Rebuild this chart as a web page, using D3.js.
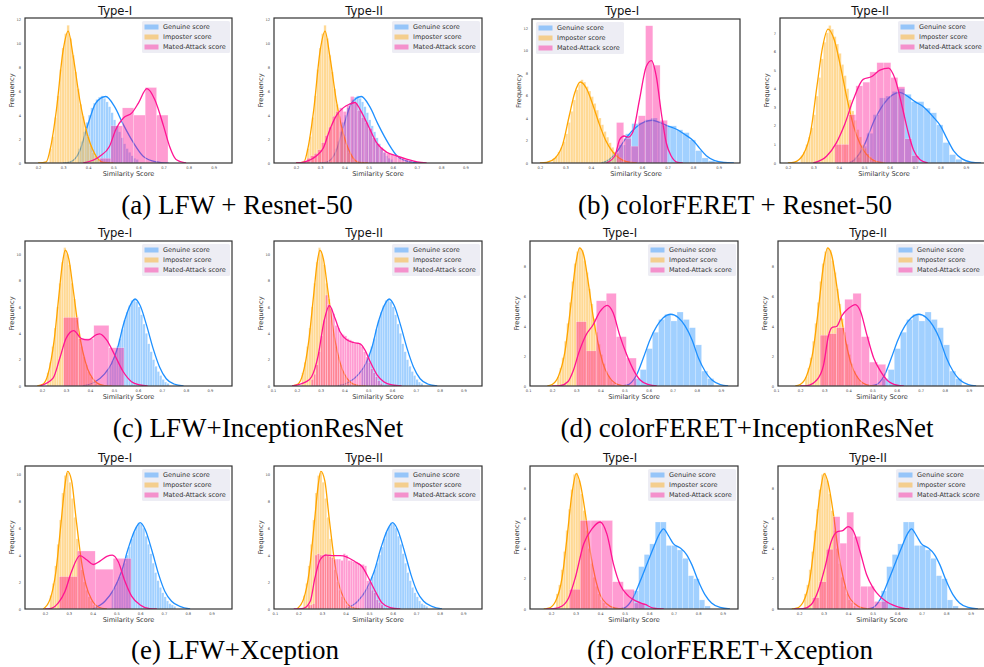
<!DOCTYPE html>
<meta charset="utf-8">
<head>
<style>
  body { margin: 0; background: #fff; }
  svg { display: block; }
  .title { font-family: "DejaVu Sans", sans-serif; font-size: 11.6px; fill: #111; text-anchor: middle; }
  .axlabel { font-family: "DejaVu Sans", sans-serif; font-size: 6.6px; fill: #333; text-anchor: middle; }
  .tick text { font-family: "DejaVu Sans", sans-serif; font-size: 3.6px; fill: #444; }
  .legend text { font-family: "DejaVu Sans", sans-serif; font-size: 6.5px; fill: #333; }
  .caption { font-family: "Liberation Serif", "Times New Roman", serif; font-size: 27px; fill: #000; text-anchor: middle; }
  .frame { fill: none; stroke: #333; stroke-width: 1.2; }
  .kde { fill: none; stroke-width: 1.3; }
  .bar { stroke: #fff; stroke-width: 0.4; stroke-opacity: 0.6; }
</style>
</head>
<body>
<div id="chart"></div>
<script src="https://cdn.jsdelivr.net/npm/d3@7"></script>
<script>
// ---- data ----
const captions = ["(a) LFW + Resnet-50", "(b) colorFERET + Resnet-50", "(c) LFW+InceptionResNet",
  "(d) colorFERET+InceptionResNet", "(e) LFW+Xception", "(f) colorFERET+Xception"];
const panelTypes = ["Type-I", "Type-II"];
const seriesNames = ["Genuine score", "Imposter score", "Mated-Attack score"];
const seriesColors = ["dodgerblue", "orange", "deeppink"];

// histograms: [first bin start, bin width, heights]; one per experiment (a..f)
const genuineHist = [
  [0.36, 0.01, [1.2, 1.8, 2.6, 3.4, 4.0, 4.6, 5.0, 5.3, 5.5, 5.6, 5.4, 5.1, 4.7, 4.2, 3.6, 3.1, 2.6, 2.1, 1.6, 1.2, 0.9, 0.6, 0.4, 0.3]],
  [0.46, 0.025, [0.3, 0.9, 1.6, 2.6, 3.5, 3.6, 3.85, 4.0, 3.7, 3.3, 3.3, 2.95, 2.7, 2.05, 1.1, 0.45, 0.2]],
  [0.47, 0.01, [1.2, 1.5, 1.9, 2.4, 3.0, 3.6, 4.3, 5.0, 5.6, 6.1, 6.5, 6.6, 6.4, 6.0, 5.4, 4.7, 4.0, 3.2, 2.6, 2.0, 1.5, 1.1, 0.8, 0.5, 0.3, 0.2]],
  [0.5395, 0.0255, [0.5, 1.1, 2.5, 3.6, 4.45, 4.8, 4.35, 4.95, 4.45, 3.9, 2.75, 1.0, 0.5]],
  [0.48, 0.01, [1.3, 1.6, 2.0, 2.4, 2.9, 3.4, 4.0, 4.6, 5.2, 5.7, 6.1, 6.4, 6.3, 6.0, 5.4, 4.8, 4.1, 3.4, 2.7, 2.1, 1.6, 1.2, 0.9, 0.6, 0.4, 0.3, 0.2]],
  [0.535, 0.0225, [1.2, 2.8, 3.6, 4.3, 5.75, 5.75, 4.2, 4.2, 3.9, 3.35, 2.2, 2.0, 0.6, 0.2]]
];
const imposterHist = [
  [0.245, 0.01, [1.2, 2.2, 3.8, 5.6, 7.8, 9.6, 10.8, 11.5, 10.4, 9.0, 7.6, 6.2, 4.9, 3.9, 2.9, 2.2, 1.5, 0.9, 0.6, 0.3]],
  [0.25, 0.01, [0.4, 0.6, 1.0, 1.4, 1.9, 2.6, 3.6, 4.6, 5.6, 6.5, 7.0, 7.4, 7.2, 6.8, 6.4, 5.9, 5.3, 4.7, 4.0, 3.4, 2.8, 2.3, 1.8, 1.4, 1.0, 0.8, 0.5, 0.35, 0.2, 0.1]],
  [0.22, 0.01, [1.0, 1.8, 3.0, 4.4, 6.0, 7.8, 9.4, 10.5, 10.0, 9.2, 7.8, 6.6, 5.0, 4.0, 3.0, 2.2, 1.6, 1.1, 0.7, 0.4, 0.2]],
  [0.22, 0.01, [0.6, 1.2, 1.9, 3.0, 4.2, 5.6, 7.0, 8.2, 9.0, 9.25, 9.1, 8.4, 7.6, 6.5, 5.5, 4.5, 3.6, 2.8, 2.1, 1.5, 1.0, 0.7, 0.4, 0.2]],
  [0.22, 0.01, [1.0, 1.9, 3.2, 4.8, 6.6, 8.6, 9.9, 10.1, 9.4, 8.2, 6.8, 5.2, 3.9, 2.9, 2.0, 1.4, 0.9, 0.6, 0.3, 0.15]],
  [0.22, 0.01, [1.0, 1.6, 2.6, 3.8, 5.2, 6.6, 7.9, 8.9, 9.0, 8.5, 7.6, 6.5, 5.2, 4.0, 3.0, 2.1, 1.5, 1.0, 0.6, 0.4, 0.2]]
];
// mated-attack: one per panel (a-I, a-II, b-I, b-II, ...)
const matedHist = [
  [0.445, 0.0455, [0.4, 3.1, 4.6, 4.0, 6.3, 4.0]],
  [0.23, 0.015, [0.2, 0.4, 0.6, 0.8, 1.1, 1.7, 2.3, 3.0, 3.9, 4.3, 4.6, 4.3, 4.8, 5.55, 5.0, 4.4, 3.8, 3.4, 2.9, 2.1, 1.6, 1.3, 0.9, 0.8, 0.7, 0.6, 0.5, 0.4, 0.3, 0.2]],
  [0.50, 0.0285, [3.6, 2.2, 1.5, 4.2, 12.2, 8.7, 3.8]],
  [0.385, 0.0275, [1.0, 1.0, 2.6, 4.15, 4.35, 4.9, 5.4, 5.4, 4.6, 4.1, 1.3, 0.4]],
  [0.29, 0.063, [5.2, 3.6, 4.6, 2.9]],
  [0.26, 0.01, [0.5, 0.9, 1.6, 2.6, 3.8, 5.0, 6.9, 6.2, 5.9, 5.5, 4.6, 4.4, 4.0, 3.9, 3.8, 3.6, 3.5, 3.4, 3.3, 3.3, 3.2, 3.0, 2.6, 2.2, 1.8, 1.3, 1.0, 0.7, 0.4, 0.2]],
  [0.30, 0.0415, [4.3, 2.35, 5.7, 6.2, 3.3, 1.87]],
  [0.283, 0.034, [3.4, 3.5, 3.9, 5.8, 6.2, 3.3, 1.6, 1.45]],
  [0.26, 0.0755, [2.4, 4.3, 2.95, 3.75]],
  [0.24, 0.01, [0.3, 0.3, 0.4, 4.0, 4.1, 4.0, 4.0, 4.1, 4.0, 3.9, 3.8, 3.7, 3.7, 3.7, 3.6, 4.1, 4.0, 3.6, 3.6, 3.5, 3.5, 3.4, 3.3, 3.3, 3.2, 2.1, 2.0, 1.4, 1.2, 0.7, 0.5, 0.3]],
  [0.275, 0.044, [1.3, 5.85, 5.85, 5.85, 1.8, 1.3, 0.4]],
  [0.255, 0.028, [0.75, 1.8, 3.95, 6.1, 4.35, 6.4, 4.8, 1.5, 1.5, 0.5, 0.5]]
];

// density curves: [score, density] points
const genuineKde = [
  [[0.30, 0], [0.33, 0.1], [0.366, 1.0], [0.40, 3.3], [0.43, 5.0], [0.47, 5.55], [0.505, 4.7], [0.54, 3.2], [0.58, 1.7], [0.62, 0.55], [0.67, 0.1], [0.72, 0]],
  [[0.44, 0], [0.46, 0.15], [0.50, 0.95], [0.54, 2.3], [0.578, 3.2], [0.61, 3.65], [0.64, 3.8], [0.67, 3.6], [0.70, 3.3], [0.735, 3.0], [0.77, 2.5], [0.80, 2.0], [0.826, 1.3], [0.852, 0.65], [0.885, 0.22], [0.92, 0.05], [0.96, 0]],
  [[0.37, 0], [0.42, 0.3], [0.46, 0.9], [0.49, 1.7], [0.515, 2.9], [0.54, 4.7], [0.567, 6.1], [0.588, 6.6], [0.609, 6.1], [0.636, 4.6], [0.664, 2.8], [0.69, 1.45], [0.718, 0.55], [0.75, 0.15], [0.79, 0]],
  [[0.48, 0], [0.509, 0.05], [0.55, 0.74], [0.578, 1.87], [0.606, 3.1], [0.634, 4.0], [0.661, 4.56], [0.692, 4.8], [0.724, 4.56], [0.752, 4.0], [0.78, 3.1], [0.807, 1.87], [0.835, 0.97], [0.863, 0.4], [0.897, 0.1], [0.93, 0]],
  [[0.40, 0], [0.452, 0.57], [0.487, 1.4], [0.522, 2.8], [0.55, 4.5], [0.579, 5.9], [0.60, 6.4], [0.621, 5.9], [0.65, 4.3], [0.678, 2.55], [0.704, 1.3], [0.732, 0.57], [0.767, 0.2], [0.81, 0]],
  [[0.47, 0], [0.496, 0.05], [0.53, 0.6], [0.564, 1.85], [0.591, 2.95], [0.618, 4.05], [0.642, 4.95], [0.659, 5.3], [0.679, 4.85], [0.70, 4.3], [0.726, 4.05], [0.753, 3.6], [0.774, 2.95], [0.801, 1.85], [0.828, 0.95], [0.855, 0.4], [0.89, 0.1], [0.93, 0]]
];
const imposterKde = [
  [[0.20, 0], [0.233, 0.1], [0.25, 1.3], [0.273, 4.4], [0.30, 9.4], [0.32, 11.0], [0.34, 8.9], [0.366, 5.3], [0.395, 2.5], [0.425, 0.8], [0.46, 0.05], [0.50, 0]],
  [[0.20, 0], [0.226, 0.05], [0.26, 0.45], [0.29, 1.7], [0.315, 4.2], [0.336, 6.2], [0.358, 7.2], [0.383, 6.6], [0.407, 5.2], [0.432, 3.5], [0.458, 2.0], [0.485, 1.0], [0.51, 0.45], [0.54, 0.12], [0.58, 0]],
  [[0.18, 0], [0.205, 0.15], [0.225, 0.9], [0.25, 3.4], [0.27, 6.8], [0.285, 9.3], [0.297, 10.3], [0.312, 9.6], [0.33, 7.3], [0.35, 4.6], [0.37, 2.6], [0.39, 1.3], [0.41, 0.6], [0.43, 0.22], [0.46, 0.03], [0.49, 0]],
  [[0.18, 0], [0.20, 0.1], [0.226, 0.65], [0.253, 2.3], [0.276, 5.2], [0.297, 8.1], [0.314, 9.24], [0.331, 8.75], [0.35, 6.9], [0.37, 4.65], [0.39, 2.9], [0.411, 1.5], [0.434, 0.67], [0.46, 0.2], [0.49, 0.03], [0.52, 0]],
  [[0.193, 0], [0.221, 0.7], [0.246, 2.8], [0.267, 6.3], [0.284, 9.2], [0.295, 10.2], [0.312, 9.5], [0.33, 6.8], [0.351, 3.8], [0.372, 1.8], [0.396, 0.7], [0.424, 0.15], [0.46, 0]],
  [[0.17, 0], [0.19, 0.05], [0.218, 0.5], [0.245, 2.07], [0.265, 4.7], [0.285, 7.6], [0.303, 8.95], [0.319, 8.3], [0.34, 6.3], [0.36, 3.8], [0.38, 2.07], [0.40, 0.95], [0.428, 0.33], [0.462, 0.05], [0.496, 0]]
];
const matedKde = [
  [[0.38, 0], [0.445, 0.55], [0.485, 1.4], [0.51, 2.8], [0.54, 3.75], [0.575, 4.2], [0.60, 5.0], [0.634, 6.2], [0.665, 5.3], [0.70, 3.1], [0.724, 1.4], [0.75, 0.3], [0.79, 0]],
  [[0.20, 0], [0.237, 0.1], [0.285, 0.6], [0.313, 1.25], [0.34, 2.8], [0.368, 4.0], [0.395, 4.6], [0.42, 4.9], [0.444, 5.05], [0.464, 4.5], [0.50, 3.05], [0.533, 1.7], [0.575, 0.9], [0.616, 0.6], [0.657, 0.33], [0.70, 0.1], [0.74, 0]],
  [[0.46, 0], [0.493, 0.6], [0.513, 2.1], [0.53, 2.4], [0.546, 2.3], [0.565, 2.8], [0.59, 5.6], [0.617, 8.6], [0.637, 9.1], [0.656, 7.7], [0.676, 4.4], [0.695, 1.8], [0.715, 0.6], [0.74, 0.05], [0.76, 0]],
  [[0.30, 0], [0.352, 0.36], [0.39, 1.07], [0.424, 2.1], [0.457, 3.4], [0.496, 4.5], [0.53, 4.65], [0.562, 5.0], [0.596, 5.1], [0.622, 4.5], [0.65, 3.0], [0.674, 1.6], [0.694, 0.7], [0.72, 0.18], [0.75, 0]],
  [[0.19, 0], [0.246, 0.6], [0.274, 2.1], [0.30, 3.6], [0.332, 4.2], [0.364, 3.6], [0.392, 3.5], [0.427, 3.9], [0.44, 3.95], [0.469, 3.5], [0.503, 2.35], [0.538, 1.1], [0.573, 0.33], [0.608, 0.08], [0.64, 0]],
  [[0.18, 0], [0.24, 0.33], [0.262, 0.7], [0.29, 2.35], [0.314, 4.9], [0.337, 6.1], [0.36, 5.15], [0.382, 4.1], [0.41, 3.5], [0.438, 3.3], [0.466, 3.2], [0.487, 2.7], [0.508, 1.85], [0.537, 0.85], [0.565, 0.33], [0.60, 0.08], [0.64, 0]],
  [[0.20, 0], [0.232, 0.02], [0.266, 0.3], [0.287, 1.0], [0.312, 2.3], [0.34, 3.4], [0.37, 4.1], [0.398, 4.97], [0.428, 5.4], [0.453, 4.9], [0.48, 3.4], [0.509, 2.1], [0.537, 1.08], [0.565, 0.4], [0.60, 0.1], [0.634, 0]],
  [[0.20, 0], [0.228, 0.02], [0.269, 0.4], [0.297, 1.4], [0.318, 3.4], [0.331, 3.9], [0.352, 4.0], [0.373, 4.7], [0.401, 5.2], [0.429, 5.45], [0.45, 5.0], [0.477, 3.4], [0.505, 1.87], [0.533, 1.0], [0.56, 0.4], [0.602, 0.05], [0.63, 0]],
  [[0.20, 0], [0.221, 0.02], [0.256, 0.45], [0.284, 1.3], [0.312, 2.8], [0.347, 3.95], [0.375, 3.65], [0.403, 3.3], [0.431, 3.55], [0.46, 3.9], [0.483, 4.0], [0.508, 3.5], [0.536, 2.05], [0.564, 0.95], [0.60, 0.3], [0.64, 0.03], [0.67, 0]],
  [[0.18, 0], [0.221, 0.05], [0.25, 0.57], [0.27, 2.3], [0.292, 3.65], [0.318, 4.0], [0.349, 3.95], [0.377, 3.95], [0.406, 3.85], [0.441, 3.5], [0.47, 3.15], [0.498, 2.3], [0.527, 1.3], [0.555, 0.45], [0.59, 0.1], [0.633, 0]],
  [[0.18, 0], [0.21, 0.02], [0.245, 0.2], [0.272, 0.75], [0.299, 2.07], [0.333, 4.3], [0.367, 5.3], [0.40, 5.75], [0.428, 4.95], [0.455, 2.95], [0.482, 1.6], [0.516, 0.85], [0.55, 0.5], [0.584, 0.3], [0.618, 0.06], [0.66, 0]],
  [[0.18, 0], [0.216, 0.02], [0.25, 0.3], [0.278, 1.2], [0.305, 2.7], [0.332, 4.5], [0.355, 5.1], [0.38, 5.2], [0.40, 5.45], [0.42, 5.2], [0.448, 3.85], [0.475, 2.3], [0.502, 1.4], [0.529, 0.85], [0.556, 0.5], [0.584, 0.25], [0.625, 0.05], [0.65, 0]]
];

// axis ranges and tick labels per panel
const xDomains = [[0.148, 0.973], [0.109, 0.969], [0.169, 0.984], [0.169, 0.987],
  [0.129, 0.992], [0.104, 0.978], [0.108, 0.971], [0.108, 0.971],
  [0.116, 0.986], [0.096, 0.98], [0.114, 0.963], [0.114, 0.963]];
const yMax = [12.1, 12.1, 12.8, 7.8, 11.0, 11.0, 9.7, 9.7, 10.6, 10.6, 9.45, 9.45];
const xTicksFrom02 = [0.2, 0.3, 0.4, 0.5, 0.6, 0.7, 0.8, 0.9];
const xTicksFrom01 = [0.1, 0.2, 0.3, 0.4, 0.5, 0.6, 0.7, 0.8, 0.9];
const yTicks12 = [0, 2, 4, 6, 8, 10, 12];
const yTicks10 = [0, 2, 4, 6, 8, 10];
const yTicks8 = [0, 2, 4, 6, 8];
const yTicks7 = [0, 1, 2, 3, 4, 5, 6, 7];
const xTickSets = [xTicksFrom02, xTicksFrom02, xTicksFrom02, xTicksFrom02, xTicksFrom02, xTicksFrom01,
  xTicksFrom01, xTicksFrom01, xTicksFrom02, xTicksFrom01, xTicksFrom02, xTicksFrom02];
const yTickSets = [yTicks12, yTicks12, yTicks12, yTicks7, yTicks10, yTicks10,
  yTicks8, yTicks8, yTicks10, yTicks10, yTicks8, yTicks8];

// ---- layout ----
const W = 984, H = 667;
const boxes = [[25, 18, 232, 163], [274, 18, 482, 163], [532, 19, 740, 163], [780, 18, 988, 163],
  [25, 241, 232, 386], [274, 241, 482, 386], [530, 241, 738, 386], [778, 241, 986, 386],
  [25, 466, 232, 609], [274, 466, 482, 609], [530, 466, 738, 609], [778, 466, 986, 609]];
const titleY = [14.5, 236.5, 461.5];
const captionPos = [[237, 214], [735, 214], [258, 437], [747, 437], [235, 659], [730, 659]];

const svg = d3.select("#chart").append("svg")
  .attr("width", W)
  .attr("height", H);

const line = d3.line().curve(d3.curveMonotoneX);

boxes.forEach(function (b, i) {
  var exp = Math.floor(i / 2),
    w = b[2] - b[0],
    h = b[3] - b[1];

  var x = d3.scaleLinear().domain(xDomains[i]).range([0, w]);
  var y = d3.scaleLinear().domain([0, yMax[i]]).range([h, 0]);
  line.x(function (d) { return x(d[0]); }).y(function (d) { return y(d[1]); });

  var g = svg.append("g").attr("transform", "translate(" + b[0] + "," + b[1] + ")");

  g.append("clipPath").attr("id", "clip" + i)
    .append("rect").attr("width", w).attr("height", h);

  var plot = g.append("g").attr("clip-path", "url(#clip" + i + ")");

  var series = [
    { hist: genuineHist[exp], kde: genuineKde[exp], color: seriesColors[0] },
    { hist: imposterHist[exp], kde: imposterKde[exp], color: seriesColors[1] },
    { hist: matedHist[i], kde: matedKde[i], color: seriesColors[2] }
  ];

  series.forEach(function (s) {
    var bins = s.hist[2].map(function (v, k) {
      return { x0: s.hist[0] + k * s.hist[1], x1: s.hist[0] + (k + 1) * s.hist[1], v: v };
    });
    plot.append("g").selectAll("rect")
      .data(bins)
      .enter().append("rect")
      .attr("class", "bar")
      .attr("x", function (d) { return x(d.x0); })
      .attr("width", function (d) { return x(d.x1) - x(d.x0); })
      .attr("y", function (d) { return y(d.v); })
      .attr("height", function (d) { return y(0) - y(d.v); })
      .attr("fill", s.color)
      .attr("fill-opacity", 0.42);
    plot.append("path")
      .datum(s.kde)
      .attr("class", "kde")
      .attr("stroke", s.color)
      .attr("d", line);
  });

  // ticks
  var xAxis = g.append("g")
    .attr("transform", "translate(0," + h + ")")
    .call(d3.axisBottom(x).tickValues(xTickSets[i]).tickFormat(d3.format(".1f")).tickSize(0).tickPadding(3));
  xAxis.select(".domain").remove();

  var yAxis = g.append("g")
    .call(d3.axisLeft(y).tickValues(yTickSets[i]).tickFormat(d3.format("d")).tickSize(0).tickPadding(4));
  yAxis.select(".domain").remove();

  g.append("rect").attr("class", "frame").attr("width", w).attr("height", h);

  // labels
  g.append("text").attr("class", "title")
    .attr("x", 90).attr("y", titleY[Math.floor(i / 4)] - b[1])
    .text(panelTypes[i % 2]);
  g.append("text").attr("class", "axlabel")
    .attr("x", w / 2).attr("y", h + 12.5)
    .text("Similarity Score");
  g.append("text").attr("class", "axlabel")
    .attr("transform", "translate(-11," + (h / 2) + ") rotate(-90)")
    .text("Frequency");

  // legend
  var lx = (i === 2) ? 4 : w - 90;
  var legend = g.append("g").attr("class", "legend")
    .attr("transform", "translate(" + lx + ",3)");
  legend.append("rect")
    .attr("width", 88).attr("height", 32).attr("rx", 1.5)
    .attr("fill", "#eaeaf2").attr("fill-opacity", 0.85);
  seriesNames.forEach(function (name, k) {
    legend.append("rect")
      .attr("x", 2.5).attr("y", 3.5 + k * 10)
      .attr("width", 14).attr("height", 5)
      .attr("fill", seriesColors[k]).attr("fill-opacity", 0.42);
    legend.append("text")
      .attr("x", 21).attr("y", 8.4 + k * 10)
      .text(name);
  });
});

svg.selectAll(".caption")
  .data(captions)
  .enter().append("text")
  .attr("class", "caption")
  .attr("x", function (d, i) { return captionPos[i][0]; })
  .attr("y", function (d, i) { return captionPos[i][1]; })
  .text(function (d) { return d; });
</script>
</body>
